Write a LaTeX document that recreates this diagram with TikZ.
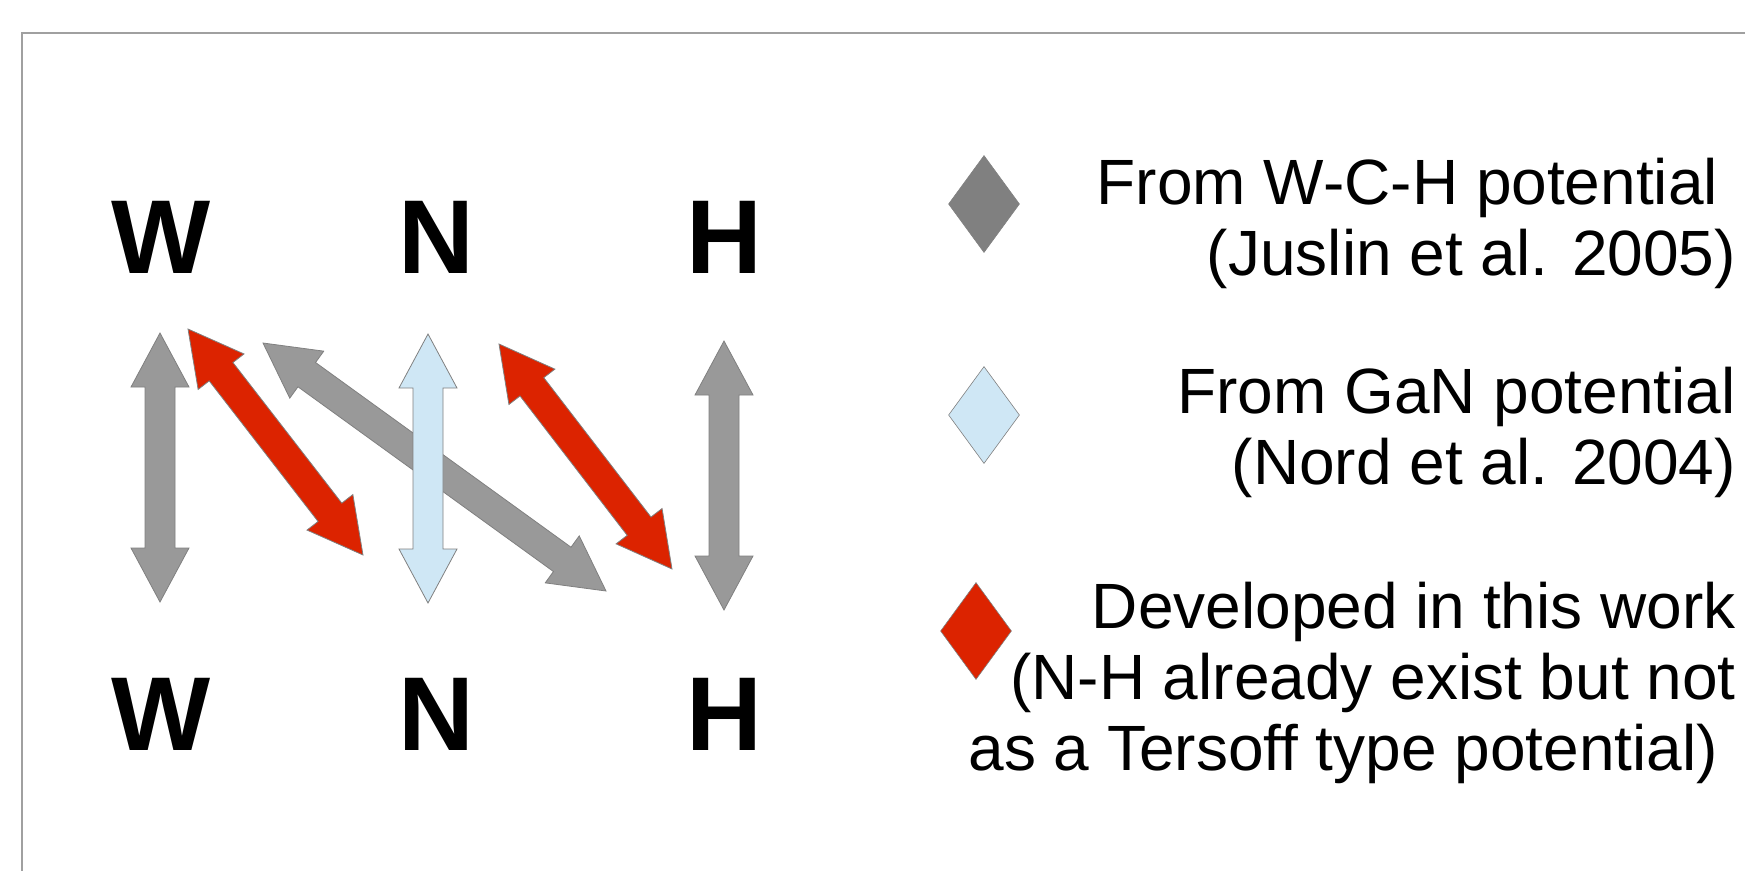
\documentclass[tikz,border=0pt]{standalone}
\usepackage{fontspec}
\setmainfont{Liberation Sans}
\usetikzlibrary{calc,shapes.geometric}

\definecolor{arrowgray}{HTML}{999999}
\definecolor{keygray}{HTML}{808080}
\definecolor{ganblue}{HTML}{CFE7F5}
\definecolor{newred}{HTML}{DC2300}
\definecolor{framegray}{HTML}{A0A0A0}

% block double arrow from #2 to #3
\newcommand{\blockarrow}[3]{%
  \filldraw[#1] (#2) -- ($(#2)!54pt!(#3)!29pt!90:(#3)$) -- ($(#2)!54pt!(#3)!15pt!90:(#3)$)
    -- ($(#3)!54pt!(#2)!15pt!-90:(#2)$) -- ($(#3)!54pt!(#2)!29pt!-90:(#2)$) -- (#3)
    -- ($(#3)!54pt!(#2)!29pt!90:(#2)$) -- ($(#3)!54pt!(#2)!15pt!90:(#2)$)
    -- ($(#2)!54pt!(#3)!15pt!-90:(#3)$) -- ($(#2)!54pt!(#3)!29pt!-90:(#3)$) -- cycle;}

\begin{document}
\begin{tikzpicture}[x=1pt,y=-1pt,
  letter/.style={font=\fontsize{105}{120}\selectfont\bfseries,anchor=base,inner sep=0pt},
  key/.style={diamond,minimum width=71pt,minimum height=97pt,inner sep=0pt,draw=keygray,line width=0.6pt},
  legend/.style={font=\fontsize{64}{71}\selectfont,align=right,anchor=base east,inner sep=0pt},
  edge/.style={draw=keygray,line width=0.8pt,line join=miter}]
\useasboundingbox (0,0) rectangle (1745,871);
\draw[framegray,line width=1.5pt] (1745,33) -- (22,33) -- (22,871);

% elements
\node[letter] (w1) at (161,273) {W};
\node[letter] (n1) at (436,273) {N};
\node[letter] (h1) at (724,273) {H};
\node[letter] (w2) at (161,750) {W};
\node[letter] (n2) at (436,750) {N};
\node[letter] (h2) at (724,750) {H};

% pair arrows
\coordinate (ww1) at (160,333); \coordinate (ww2) at (160,602);
\coordinate (wn1) at (188,329); \coordinate (wn2) at (363,555);
\coordinate (nw1) at (263,343); \coordinate (nw2) at (606,591);
\coordinate (nn1) at (428,334); \coordinate (nn2) at (428,603);
\coordinate (nh1) at (499,344); \coordinate (nh2) at (672,569);
\coordinate (hh1) at (724,341); \coordinate (hh2) at (724,610);
\blockarrow{edge,fill=arrowgray}{ww1}{ww2}
\blockarrow{edge,fill=newred}{wn1}{wn2}
\blockarrow{edge,fill=arrowgray}{nw1}{nw2}
\blockarrow{edge,fill=ganblue}{nn1}{nn2}
\blockarrow{edge,fill=newred}{nh1}{nh2}
\blockarrow{edge,fill=arrowgray}{hh1}{hh2}

% legend
\node[key,fill=keygray] (k1) at (984,204) {};
\node[key,fill=ganblue] (k2) at (984,415) {};
\node[key,fill=newred] (k3) at (976,631) {};
\node[legend] (t1) at (1736,275) {From W-C-H potential\kern0.278em\\(Juslin et al. 2005)};
\node[legend] (t2) at (1736,484) {From GaN potential\\(Nord et al. 2004)};
\node[legend] (t3) at (1736,770) {Developed in this work\\(N-H already exist but not\\as a Tersoff type potential)\kern0.278em};
\end{tikzpicture}
\end{document}
